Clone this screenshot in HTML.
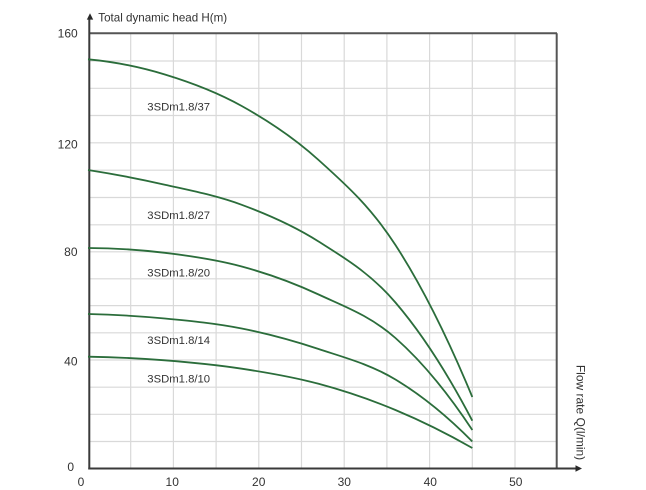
<!DOCTYPE html>
<html>
<head>
<meta charset="utf-8">
<style>
  html, body { margin: 0; padding: 0; background: #ffffff; }
  body { width: 646px; height: 490px; overflow: hidden; }
  svg { display: block; }
  text { font-family: "Liberation Sans", Arial, sans-serif; fill: #333333; }
</style>
</head>
<body>
<svg width="646" height="490" viewBox="0 0 646 490" xmlns="http://www.w3.org/2000/svg">
  <rect x="0" y="0" width="646" height="490" fill="#ffffff"/>

  <!-- grid -->
  <g stroke="#d9d9d9" stroke-width="1.2" fill="none">
    <line x1="89" y1="441.5" x2="557" y2="441.5"/>
    <line x1="89" y1="414.3" x2="557" y2="414.3"/>
    <line x1="89" y1="387.2" x2="557" y2="387.2"/>
    <line x1="89" y1="360" x2="557" y2="360"/>
    <line x1="89" y1="332.8" x2="557" y2="332.8"/>
    <line x1="89" y1="305.6" x2="557" y2="305.6"/>
    <line x1="89" y1="278.8" x2="557" y2="278.8"/>
    <line x1="89" y1="251.8" x2="557" y2="251.8"/>
    <line x1="89" y1="224.8" x2="557" y2="224.8"/>
    <line x1="89" y1="197.5" x2="557" y2="197.5"/>
    <line x1="89" y1="170.2" x2="557" y2="170.2"/>
    <line x1="89" y1="142.8" x2="557" y2="142.8"/>
    <line x1="89" y1="115.5" x2="557" y2="115.5"/>
    <line x1="89" y1="88.3" x2="557" y2="88.3"/>
    <line x1="89" y1="61" x2="557" y2="61"/>

    <line x1="130.7" y1="33.3" x2="130.7" y2="468.5"/>
    <line x1="173.4" y1="33.3" x2="173.4" y2="468.5"/>
    <line x1="216.1" y1="33.3" x2="216.1" y2="468.5"/>
    <line x1="258.8" y1="33.3" x2="258.8" y2="468.5"/>
    <line x1="301.5" y1="33.3" x2="301.5" y2="468.5"/>
    <line x1="344.2" y1="33.3" x2="344.2" y2="468.5"/>
    <line x1="386.9" y1="33.3" x2="386.9" y2="468.5"/>
    <line x1="429.6" y1="33.3" x2="429.6" y2="468.5"/>
    <line x1="472.3" y1="33.3" x2="472.3" y2="468.5"/>
    <line x1="515" y1="33.3" x2="515" y2="468.5"/>
  </g>

  <!-- frame / axes -->
  <g stroke="#3a3a3a" stroke-width="2" fill="none">
    <line x1="89" y1="33.3" x2="557" y2="33.3" stroke="#555"/>
    <line x1="556.7" y1="33.3" x2="556.7" y2="468.5" stroke="#555"/>
    <line x1="89.3" y1="17" x2="89.3" y2="469.5"/>
    <line x1="88.3" y1="468.5" x2="577" y2="468.5"/>
  </g>
  <polygon points="90,13.2 86.8,19.6 93.2,19.6" fill="#2a2a2a"/>
  <polygon points="582,468.5 575.5,465.3 575.5,471.7" fill="#2a2a2a"/>

  <!-- curves -->
  <g stroke="#2b6d3b" stroke-width="1.8" fill="none" stroke-linecap="butt">
    <path d="M88,59.3 C113.62,61.65 139.24,66.72 164.86,74.5 C190.48,82.28 216.1,91.75 241.72,106 C267.34,120.25 292.96,136.83 318.58,160 C344.2,183.17 369.82,205.5 395.44,245 C421.06,284.5 446.68,335.17 472.3,397"/>
    <path d="M88,170 C113.62,174 139.24,178.9 164.86,184.7 C190.48,190.5 216.1,195.33 241.72,204.8 C267.34,214.27 292.96,225.22 318.58,241.5 C344.2,257.78 369.82,272.63 395.44,302.5 C421.06,332.37 446.68,371.77 472.3,420.7"/>
    <path d="M88,248 C113.62,248.12 139.24,249.72 164.86,252.8 C190.48,255.88 216.1,259.55 241.72,266.5 C267.34,273.45 292.96,282.58 318.58,294.5 C344.2,306.42 369.82,315.42 395.44,338 C421.06,360.58 446.68,391.25 472.3,430"/>
    <path d="M88,314 C113.62,314.58 139.24,316.08 164.86,318.5 C190.48,320.92 216.1,323.42 241.72,328.5 C267.34,333.58 292.96,340.5 318.58,349 C344.2,357.5 369.82,364.08 395.44,379.5 C421.06,394.92 446.68,415.58 472.3,441.5"/>
    <path d="M88,356.7 C113.62,357.1 139.24,358.3 164.86,360.3 C190.48,362.3 216.1,364.78 241.72,368.7 C267.34,372.62 292.96,376.92 318.58,383.8 C344.2,390.68 369.82,399.3 395.44,410 C421.06,420.7 446.68,433.37 472.3,448"/>
  </g>

  <!-- y tick labels -->
  <g font-size="12" text-anchor="end">
    <text x="77.7" y="37.6">160</text>
    <text x="77.7" y="148.3">120</text>
    <text x="77.5" y="256">80</text>
    <text x="77.5" y="365.3">40</text>
  </g>
  <text x="70.7" y="471" font-size="12" text-anchor="middle">0</text>

  <!-- x tick labels -->
  <g font-size="12" text-anchor="middle">
    <text x="81" y="486">0</text>
    <text x="172.2" y="486">10</text>
    <text x="258.7" y="486">20</text>
    <text x="344.3" y="486">30</text>
    <text x="430.3" y="486">40</text>
    <text x="515.8" y="486">50</text>
  </g>

  <!-- axis titles -->
  <text x="98.3" y="21.5" font-size="11.6">Total dynamic head H(m)</text>
  <text transform="translate(581,412.5) rotate(90)" text-anchor="middle" dy="4.3" font-size="12">Flow rate Q(l/min)</text>

  <!-- curve labels -->
  <g font-size="11.3">
    <text x="147.3" y="110.7">3SDm1.8/37</text>
    <text x="147.3" y="219">3SDm1.8/27</text>
    <text x="147.3" y="276.3">3SDm1.8/20</text>
    <text x="147.3" y="344">3SDm1.8/14</text>
    <text x="147.3" y="382.3">3SDm1.8/10</text>
  </g>
</svg>
</body>
</html>
